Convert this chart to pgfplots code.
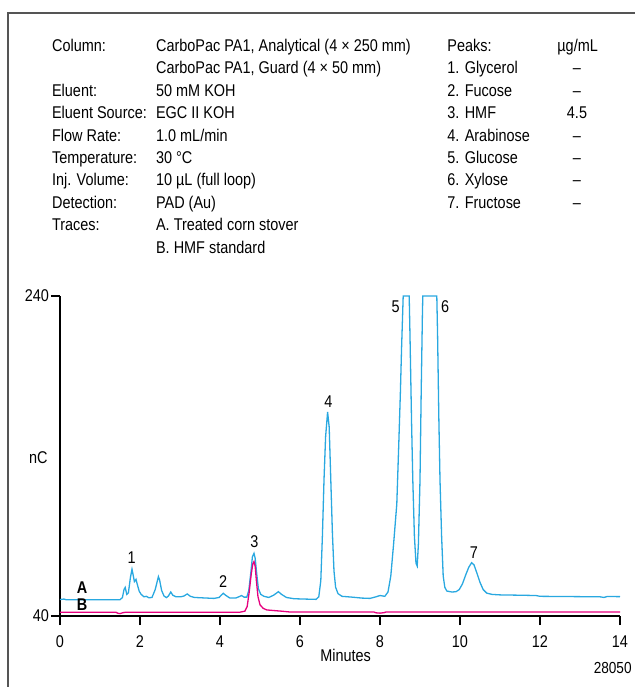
\documentclass[border=0pt]{standalone}
\usepackage{fontspec}
\setmainfont{Liberation Sans}[FakeStretch=0.85]
\usepackage{pgfplots}
\pgfplotsset{compat=1.18}
\definecolor{traceA}{HTML}{29A8E0}
\definecolor{traceB}{HTML}{E6007E}
\definecolor{framegray}{HTML}{555555}

\pgfplotstableread{
x y
0.00 50.3
0.10 50.6
0.15 50.2
1.50 50.2
1.56 51.5
1.60 56.5
1.63 57.9
1.67 53.5
1.71 54.5
1.76 64.0
1.80 69.2
1.83 65.5
1.86 61.5
1.90 62.9
1.93 60.0
1.98 55.5
2.03 53.5
2.10 52.0
2.16 52.3
2.22 51.4
2.30 51.6
2.38 56.5
2.46 64.6
2.49 62.5
2.54 56.0
2.60 52.5
2.66 51.5
2.71 52.5
2.77 55.0
2.82 53.0
2.90 52.0
3.02 52.0
3.10 52.5
3.18 53.8
3.26 52.3
3.36 51.6
3.60 51.3
3.85 51.0
3.98 51.6
4.03 53.0
4.08 54.2
4.14 53.0
4.24 51.3
4.40 51.3
4.47 52.0
4.54 52.8
4.60 51.8
4.67 51.8
4.72 56.0
4.77 67.0
4.81 77.0
4.85 79.2
4.88 76.0
4.92 66.0
4.96 57.0
5.02 53.5
5.10 52.3
5.22 51.6
5.34 53.0
5.46 55.2
5.54 53.5
5.66 51.6
5.85 50.8
6.10 50.6
6.40 50.4
6.47 52.0
6.52 62.0
6.56 90.0
6.60 125.0
6.64 152.0
6.69 167.5
6.73 158.0
6.77 125.0
6.81 92.0
6.85 68.0
6.89 58.0
6.95 54.0
7.05 52.3
7.30 51.8
7.55 51.2
7.75 51.0
7.90 52.0
8.00 52.8
8.12 52.3
8.20 55.0
8.27 65.0
8.34 85.0
8.42 110.0
8.47 148.0
8.51 180.0
8.54 208.0
8.57 232.0
8.58 240.0
8.73 240.0
8.75 215.0
8.79 160.0
8.82 125.0
8.86 90.0
8.90 73.0
8.93 71.2
8.96 85.0
9.00 125.0
9.03 180.0
9.06 228.0
9.07 240.0
9.42 240.0
9.44 215.0
9.47 165.0
9.50 125.0
9.54 90.0
9.58 65.0
9.62 58.0
9.67 55.6
9.80 55.0
9.90 55.2
9.98 56.5
10.06 60.0
10.14 65.5
10.22 70.5
10.29 73.3
10.35 72.0
10.42 67.0
10.50 61.0
10.58 56.5
10.67 54.3
10.80 53.5
11.00 53.2
11.50 53.0
11.90 52.8
12.00 52.3
12.50 52.2
13.00 52.1
13.50 52.0
13.60 51.6
13.68 52.2
14.00 52.1
}\traceAdata

\pgfplotstableread{
x y
0.00 42.3
1.40 42.3
1.45 41.7
1.50 41.5
1.56 42.0
1.65 42.4
4.50 42.4
4.62 43.0
4.68 46.0
4.73 55.0
4.78 66.0
4.82 72.5
4.85 74.0
4.88 71.0
4.91 62.0
4.95 52.0
5.00 47.0
5.08 44.8
5.17 43.8
5.35 43.4
5.55 43.0
5.75 42.5
7.85 42.5
7.90 42.0
8.00 41.8
8.10 42.1
8.15 42.5
14.00 42.5
}\traceBdata

\begin{document}
\begin{tikzpicture}[x=0.5pt,y=-0.5pt,font=\fontsize{8.5}{10}\selectfont]
\useasboundingbox (0,0) rectangle (634,687);
\draw[line width=0.65pt, framegray] (8,700) -- (8,13) -- (650,13);

% conditions block
\begin{scope}[every node/.style={anchor=base west, inner sep=0pt}]
\node at (51.7,51.5) {Column:};
\node at (155.7,51.5) {CarboPac PA1, Analytical (4 × 250 mm)};
\node at (155.7,73.9) {CarboPac PA1, Guard (4 × 50 mm)};
\node at (51.7,96.3) {Eluent:};
\node at (155.7,96.3) {50 mM KOH};
\node at (51.7,118.7) {Eluent Source:};
\node at (155.7,118.7) {EGC II KOH};
\node at (51.7,141.1) {Flow Rate:};
\node at (155.7,141.1) {1.0 mL/min};
\node at (51.7,163.5) {Temperature:};
\node at (155.7,163.5) {30 °C};
\node at (51.7,185.9) {Inj. Volume:};
\node at (155.7,185.9) {10 µL (full loop)};
\node at (51.7,208.3) {Detection:};
\node at (155.7,208.3) {PAD (Au)};
\node at (51.7,230.7) {Traces:};
\node at (155.7,230.7) {A. Treated corn stover};
\node at (155.7,253.1) {B. HMF standard};
\node at (447,51.5) {Peaks:};
\node at (557,51.5) {µg/mL};
\node at (447,73.9) {1. Glycerol};
\node at (447,96.3) {2. Fucose};
\node at (447,118.7) {3. HMF};
\node at (447,141.1) {4. Arabinose};
\node at (447,163.5) {5. Glucose};
\node at (447,185.9) {6. Xylose};
\node at (447,208.3) {7. Fructose};
\end{scope}
\begin{scope}[every node/.style={anchor=base, inner sep=0pt}]
\node at (577,73.9) {–};
\node at (577,96.3) {–};
\node at (577,118.7) {4.5};
\node at (577,141.1) {–};
\node at (577,163.5) {–};
\node at (577,185.9) {–};
\node at (577,208.3) {–};
\end{scope}

\node[anchor=base east, inner sep=0pt, font=\fontsize{8}{9.6}\selectfont] at (632,673) {28050};

\begin{axis}[
  at={(30pt,-308pt)}, anchor=south west,
  scale only axis, width=280pt, height=160pt,
  xmin=0, xmax=14, ymin=40, ymax=240,
  axis lines=left,
  axis line style={-, line width=0.65pt, black},
  xtick={0,2,...,14}, ytick={40,240},
  tick align=outside, major tick length=4.5pt,
  tick style={line width=0.65pt, black},
  /pgf/number format/assume math mode=true,
  ticklabel style={font=\fontsize{8.5}{10}\selectfont},
  yticklabel style={inner sep=0.8pt},
  xticklabel style={inner sep=1pt, yshift=-4pt},
  clip=false,
]
\addplot[traceA, line width=0.65pt] table[x=x,y=y] {\traceAdata};
\addplot[traceB, line width=0.65pt] table[x=x,y=y] {\traceBdata};

\node at (axis cs:1.79,76.3) {1};
\node at (axis cs:4.08,61.4) {2};
\node at (axis cs:4.86,86.4) {3};
\node at (axis cs:6.71,173.9) {4};
\node at (axis cs:8.39,233.3) {5};
\node at (axis cs:9.63,233.3) {6};
\node at (axis cs:10.35,79.6) {7};
\node[font=\fontsize{8.5}{10}\bfseries] at (axis cs:0.55,57.5) {A};
\node[font=\fontsize{8.5}{10}\bfseries] at (axis cs:0.55,46.9) {B};
\node[anchor=east, inner sep=0pt] at (axis cs:0,139) [xshift=-6pt] {nC};
\node at (axis cs:7.14,40) [yshift=-19.5pt] {Minutes};
\end{axis}
\end{tikzpicture}
\end{document}
